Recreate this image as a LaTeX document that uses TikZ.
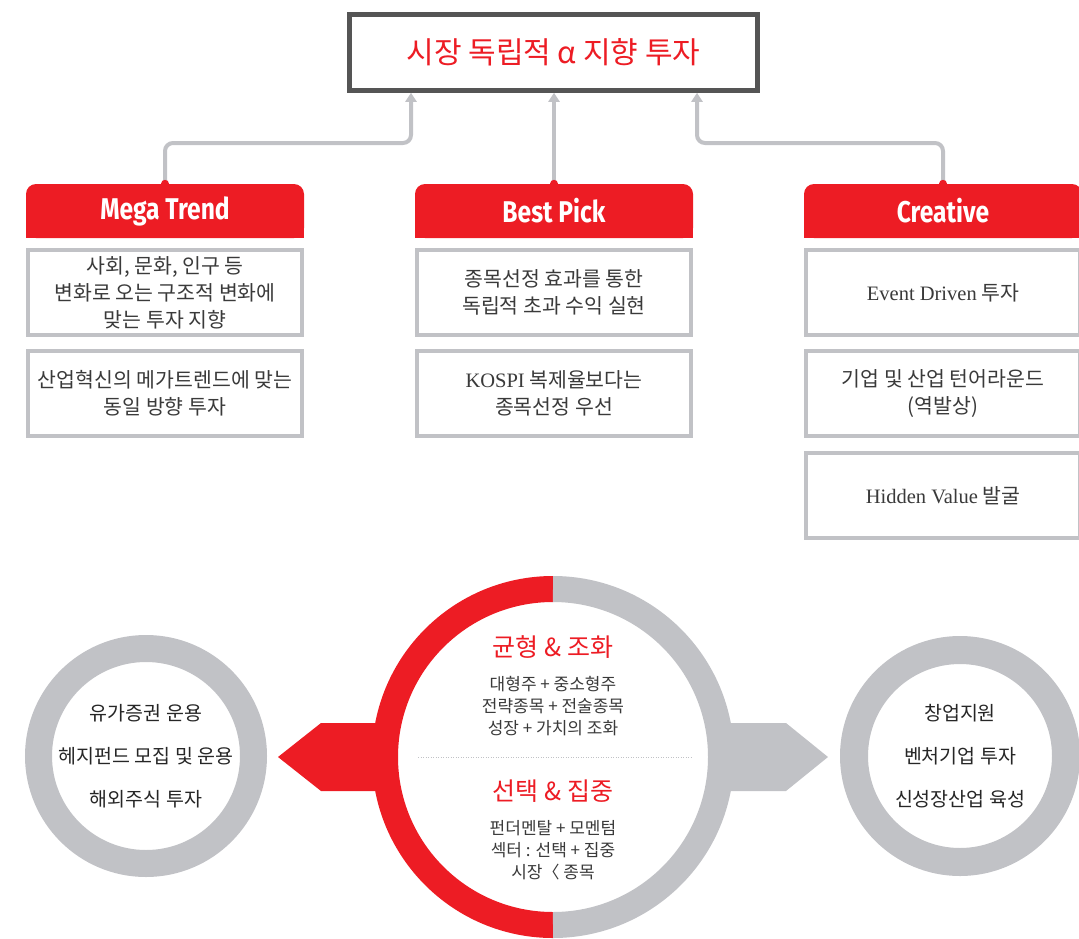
\documentclass[tikz,border=0pt]{standalone}
\usepackage{fontspec}
\setmainfont{Noto Sans CJK KR}
\newfontfamily\headfont[FakeStretch=0.82]{Fira Sans}
\newfontfamily\latinserif{Liberation Serif}
\usetikzlibrary{arrows.meta,backgrounds,calc}

\definecolor{markred}{HTML}{ED1C24}
\definecolor{ringgray}{HTML}{C1C2C6}
\definecolor{framegray}{HTML}{555555}
\definecolor{textgray}{HTML}{3A3A3A}

\begin{document}
\begin{tikzpicture}[x=1pt,y=-1pt,
    goal/.style={draw=framegray,line width=4.5pt,fill=white,minimum width=408pt,minimum height=76pt,
        text=markred,font=\fontsize{30}{32}\selectfont},
    head/.style={fill=markred,rounded corners=10pt,minimum width=278pt,minimum height=54pt,inner sep=0pt,
        text=white,font=\headfont\bfseries\fontsize{30}{32}\selectfont},
    card/.style={draw=ringgray,line width=4pt,fill=white,minimum width=274pt,minimum height=85pt,inner sep=0pt,
        align=center,text=textgray,font=\fontsize{20.5}{27}\selectfont},
    link/.style={ringgray,line width=4pt,rounded corners=8pt,-{Triangle[width=11pt,length=9pt]}},
    pin/.style={circle,fill=markred,inner sep=0pt,minimum size=8pt},
    ring/.style={circle,draw=ringgray,fill=white,inner sep=0pt,align=center,
        text=black!85,font=\fontsize{19.5}{43}\selectfont},
    motto/.style={text=markred,font=\fontsize{25}{28}\selectfont},
    detail/.style={align=center,text=textgray,font=\fontsize{17}{22}\selectfont}
]
    \useasboundingbox (0,0) rectangle (1079,938);

    % Goal
    \node[goal] (goal) at (553.5,52.5) {시장 독립적 α 지향 투자};

    % Heads
    \node[head] (mega) at (165,211) {Mega Trend};
    \node[head] (pick) at (554,211) {Best Pick};
    \node[head] (creative) at (943,211) {Creative};
    \begin{scope}[on background layer]
        \foreach \h in {mega,pick,creative}
            \fill[markred] (\h.south west) rectangle (\h.east);
    \end{scope}

    % Links
    \coordinate (megaturn) at (411,143);
    \coordinate (creativeturn) at (697,143);
    \draw[link] (mega.north) |- (megaturn) -- (megaturn |- goal.south);
    \draw[link] (pick.north) -- (pick.north |- goal.south);
    \draw[link] (creative.north) |- (creativeturn) -- (creativeturn |- goal.south);
    \node[pin] (megapin) at (mega.north) {};
    \node[pin] (pickpin) at (pick.north) {};
    \node[pin] (creativepin) at (creative.north) {};

    % Cards
    \node[card] (mega1) at (165,292.5) {사회, 문화, 인구 등\\변화로 오는 구조적 변화에\\맞는 투자 지향};
    \node[card] (mega2) at (165,393.5) {산업혁신의 메가트렌드에 맞는\\동일 방향 투자};
    \node[card] (pick1) at (554,292.5) {종목선정 효과를 통한\\독립적 초과 수익 실현};
    \node[card] (pick2) at (554,393.5) {{\latinserif KOSPI} 복제율보다는\\종목선정 우선};
    \node[card] (creative1) at (943,292.5) {{\latinserif Event Driven} 투자};
    \node[card] (creative2) at (943,393.5) {기업 및 산업 턴어라운드\\(역발상)};
    \node[card] (creative3) at (943,495.5) {{\latinserif Hidden Value} 발굴};

    % Circles
    \node[ring,line width=27pt,minimum size=215pt] (fund) at (146,756) {유가증권 운용\\헤지펀드 모집 및 운용\\해외주식 투자};
    \node[ring,line width=28pt,minimum size=212pt] (venture) at (960,756) {창업지원\\벤처기업 투자\\신성장산업 육성};
    \coordinate (core) at (553,757);
    \fill[markred] ($(core)+(-175,-34)$) -- ($(fund.east)+(54,-33)$) -- ($(fund.east)+(11,1)$) -- ($(fund.east)+(54,35)$) -- ($(core)+(-175,34)$) -- cycle;
    \fill[ringgray] ($(core)+(175,-34)$) -- ($(venture.west)+(-54,-33)$) -- ($(venture.west)+(-12,1)$) -- ($(venture.west)+(-54,35)$) -- ($(core)+(175,34)$) -- cycle;
    \node[circle,fill=white,minimum size=320pt] (corefill) at (core) {};
    \draw[markred,line width=26pt] (core) ++(0,-168) arc[start angle=-90,end angle=-270,radius=168];
    \draw[ringgray,line width=26pt] (core) ++(0,-168) arc[start angle=-90,end angle=90,radius=168];
    \draw[ringgray,line width=1pt,dash pattern=on 1pt off 1.5pt] ($(core)+(-135,0)$) -- ($(core)+(139,0)$);

    % Core texts
    \node[motto] (balance) at (553,647) {균형 \& 조화};
    \node[detail] (balancetext) at (553,706) {대형주 + 중소형주\\전략종목 + 전술종목\\성장 + 가치의 조화};
    \node[motto] (focus) at (553,791) {선택 \& 집중};
    \node[detail] (focustext) at (553,850) {펀더멘탈 + 모멘텀\\섹터 : 선택 + 집중\\시장〈 종목};
\end{tikzpicture}
\end{document}
